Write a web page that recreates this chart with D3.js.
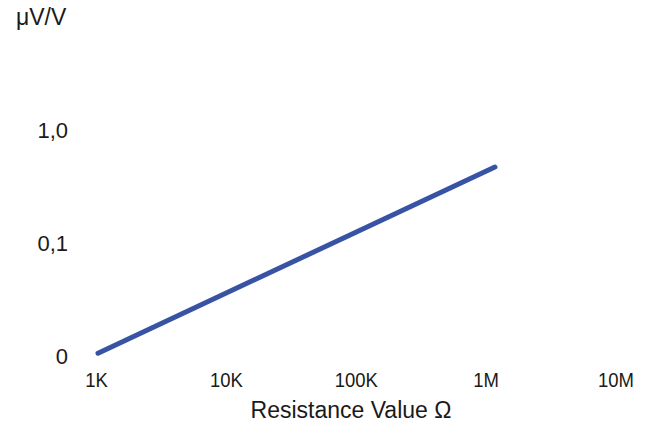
<!DOCTYPE html>
<html>
<head>
<meta charset="utf-8">
<script src="https://cdn.jsdelivr.net/npm/d3@7"></script>
<style>
  html, body { margin: 0; padding: 0; background: #fff; }
  svg { display: block; }
  .xt { font-family: "Liberation Sans", Arial, sans-serif; font-size: 21px; fill: #1a1a1a; }
  .yt { font-family: "Liberation Sans", Arial, sans-serif; font-size: 22px; fill: #1a1a1a; }
  .ttl { font-family: "Liberation Sans", Arial, sans-serif; font-size: 23px; fill: #1a1a1a; }
</style>
</head>
<body>
<svg id="chart" width="648" height="425"></svg>
<script>
// Resistance decades shown along the bottom (ohms) and their labels
const xTickValues = [1e3, 1e4, 1e5, 1e6, 1e7];
const xTickLabels = ["1K", "10K", "100K", "1M", "10M"];

// Sensitivity levels on the vertical axis (µV/V); the lowest step is labelled "0"
const yTickValues = [0.01, 0.1, 1];
const yTickLabels = ["0", "0,1", "1,0"];

// The curve: resistance (ohms) vs. µV/V
const resistance = [1036, 1180000];
const sensitivity = [0.0106, 0.47];

const svg = d3.select("#chart");

const x = d3.scaleLog().domain([1e3, 1e7]).range([96, 615.5]);
const y = d3.scaleLog().domain([0.01, 1]).range([356, 130]);

// X axis labels (no axis line or ticks), slightly condensed
const xAxis = d3.axisBottom(x)
  .tickValues(xTickValues)
  .tickFormat((d, i) => xTickLabels[i])
  .tickSize(0)
  .tickPadding(0);
const gx = svg.append("g").attr("transform", "translate(0,387)").call(xAxis);
gx.select(".domain").remove();
gx.selectAll("text")
  .attr("class", "xt")
  .attr("dy", null)
  .attr("y", 0)
  .attr("fill", null)
  .attr("transform", "scale(0.88,1)");
gx.attr("font-size", null).attr("font-family", null);

// Y axis labels, right aligned
const yAxis = d3.axisLeft(y)
  .tickValues(yTickValues)
  .tickFormat((d, i) => yTickLabels[i])
  .tickSize(0)
  .tickPadding(0);
const gy = svg.append("g").attr("transform", "translate(68,0)").call(yAxis);
gy.select(".domain").remove();
gy.selectAll("text").attr("class", "yt").attr("fill", null);
gy.attr("font-size", null).attr("font-family", null);

// Axis titles
svg.append("text").attr("class", "ttl").attr("x", 16).attr("y", 25).text("μV/V");
svg.append("text").attr("class", "ttl").attr("x", 351).attr("y", 418)
  .attr("text-anchor", "middle").text("Resistance Value Ω");

// Data line
const line = d3.line()
  .x((d, i) => x(resistance[i]))
  .y(d => y(d));
svg.append("path")
  .datum(sensitivity)
  .attr("d", line)
  .attr("fill", "none")
  .attr("stroke", "#3953a4")
  .attr("stroke-width", 5)
  .attr("stroke-linecap", "round");
</script>
</body>
</html>
